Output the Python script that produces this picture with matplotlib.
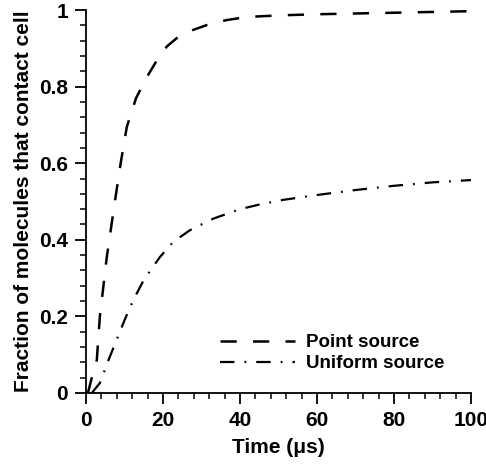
import matplotlib
matplotlib.use('Agg')
import matplotlib.pyplot as plt
from matplotlib.ticker import MultipleLocator

plt.rcParams['font.family'] = ['Liberation Sans', 'DejaVu Sans']
plt.rcParams['font.weight'] = 'bold'

# point source curve
t_point = [0.5, 1.5, 2.8, 3.6, 5.4, 7.5, 9.0, 10.6, 13.0, 15.8, 18.5, 21.0, 24.0, 27.8, 32.0, 36.6, 42.0, 50.0, 60.0, 70.0, 80.0, 90.0, 100.0]
f_point = [0.0, 0.04, 0.086, 0.20, 0.355, 0.50, 0.60, 0.695, 0.77, 0.825, 0.87, 0.905, 0.93, 0.948, 0.963, 0.974, 0.982, 0.986, 0.989, 0.991, 0.993, 0.995, 0.997]

# uniform source curve
t_unif = [1.5, 3.6, 6.0, 8.0, 10.0, 12.3, 15.0, 19.2, 22.7, 27.0, 33.0, 40.0, 45.0, 51.0, 60.0, 70.0, 80.0, 90.0, 100.0]
f_unif = [0.0, 0.026, 0.09, 0.14, 0.19, 0.243, 0.295, 0.355, 0.395, 0.425, 0.455, 0.48, 0.492, 0.504, 0.517, 0.53, 0.541, 0.55, 0.556]

fig = plt.figure(figsize=(4.86, 4.67), dpi=100)
ax = fig.add_axes([0.177, 0.1585, 0.792, 0.82])

ax.plot(t_point, f_point, color='black', lw=1.8, dashes=(6.5, 6.5), label='Point source')
ax.plot(t_unif, f_unif, color='black', lw=1.6, dashes=(6.5, 4.5, 0.8, 4.5), label='Uniform source')

ax.set_xlim(0, 100)
ax.set_ylim(0, 1)
ax.spines['top'].set_visible(False)
ax.spines['right'].set_visible(False)
ax.spines['left'].set_linewidth(1.3)
ax.spines['bottom'].set_linewidth(1.3)

ax.xaxis.set_major_locator(MultipleLocator(20))
ax.xaxis.set_minor_locator(MultipleLocator(4))
ax.yaxis.set_minor_locator(MultipleLocator(0.04))
ax.set_yticks([0, 0.2, 0.4, 0.6, 0.8, 1.0])
ax.set_yticklabels(['0', '0.2', '0.4', '0.6', '0.8', '1'])
ax.tick_params(which='major', length=8, width=1.3, labelsize=15, direction='out', pad=5)
ax.tick_params(which='minor', length=4.5, width=1.1, direction='out')

ax.set_xlabel('Time (\u03bcs)', fontsize=15, fontweight='bold', labelpad=6)
ax.set_ylabel('Fraction of molecules that contact cell', fontsize=15, fontweight='bold', labelpad=4)

ax.legend(loc='lower right', frameon=False, fontsize=13.5, handlelength=4.0,
          bbox_to_anchor=(0.975, 0.01), labelspacing=0.2, handletextpad=0.6)

fig.savefig('out.png', dpi=100)
